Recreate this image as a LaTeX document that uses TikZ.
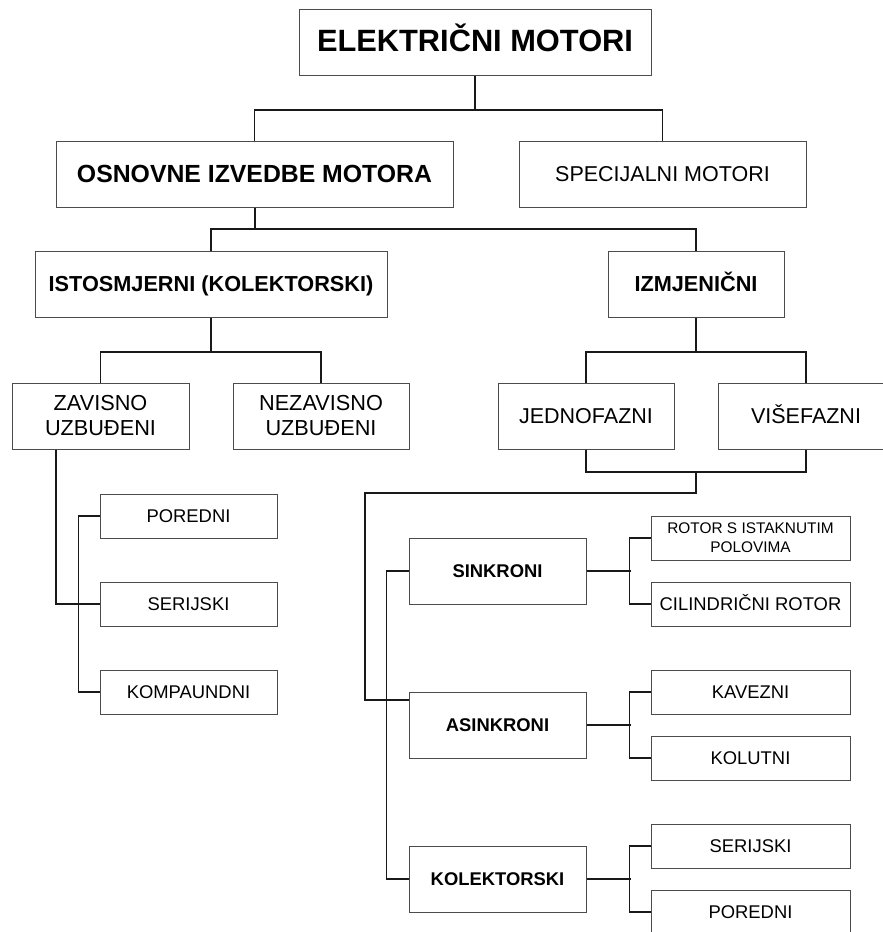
\documentclass[tikz,border=0pt]{standalone}
\usepackage{fontspec}
\setmainfont{Liberation Sans}
\usetikzlibrary{calc}
\begin{document}
\begin{tikzpicture}[x=1pt,y=-1pt,
  box/.style={draw=black!70, line width=1pt, inner sep=0pt, align=center, text=black},
  big/.style={box, minimum height=66pt},
  small/.style={box, minimum height=44pt},
  one/.style={text height=#1, text depth=0pt},
  conn/.style={line width=1.5pt, black!90}]
\useasboundingbox[fill=white] (0,0) rectangle (883,932);
% boxes
\node[big, minimum width=352pt, text height=22pt, text depth=4pt, font=\fontsize{30.8}{34}\selectfont\bfseries] (top) at (475,42) {ELEKTRIČNI MOTORI};
\node[big, minimum width=397pt, one=17.8pt, font=\fontsize{24.8}{28}\selectfont\bfseries] (osn) at (254.5,174) {OSNOVNE IZVEDBE MOTORA};
\node[big, minimum width=287pt, one=15.4pt, font=\fontsize{21.5}{25}\selectfont] (spec) at (662.5,174) {SPECIJALNI MOTORI};
\node[big, minimum width=352pt, one=15.5pt, font=\fontsize{21.7}{25}\selectfont\bfseries] (isto) at (211,284) {ISTOSMJERNI (KOLEKTORSKI)};
\node[big, minimum width=176pt, one=15.5pt, font=\fontsize{21.7}{25}\selectfont\bfseries] (izmj) at (696,284) {IZMJENIČNI};
\node[big, minimum width=177pt, font=\fontsize{21.7}{25}\selectfont] (zav) at (100.5,416) {ZAVISNO\\UZBUĐENI};
\node[big, minimum width=176pt, font=\fontsize{21.7}{25}\selectfont] (nez) at (321,416) {NEZAVISNO\\UZBUĐENI};
\node[big, minimum width=176pt, one=15.4pt, font=\fontsize{21.5}{25}\selectfont] (jed) at (586,416) {JEDNOFAZNI};
\node[big, minimum width=176pt, one=15.4pt, font=\fontsize{21.5}{25}\selectfont] (vis) at (806,416) {VIŠEFAZNI};
% left column
\node[small, minimum width=177pt, one=13.2pt, font=\fontsize{18.4}{22}\selectfont] (por) at (188.5,516) {POREDNI};
\node[small, minimum width=177pt, one=13.2pt, font=\fontsize{18.4}{22}\selectfont] (ser) at (188.5,604) {SERIJSKI};
\node[small, minimum width=177pt, one=13.2pt, font=\fontsize{18.4}{22}\selectfont] (komp) at (188.5,692) {KOMPAUNDNI};
% middle column
\node[big, minimum width=177pt, one=13.2pt, font=\fontsize{18.4}{22}\selectfont\bfseries] (sink) at (497.5,571) {SINKRONI};
\node[big, minimum width=177pt, one=13.2pt, font=\fontsize{18.4}{22}\selectfont\bfseries] (asink) at (497.5,725) {ASINKRONI};
\node[big, minimum width=177pt, one=13.2pt, font=\fontsize{18.4}{22}\selectfont\bfseries] (kol) at (497.5,879) {KOLEKTORSKI};
% right column
\node[small, minimum width=199pt, font=\fontsize{15.4}{19}\selectfont] (rotor) at (750.5,538) {ROTOR S ISTAKNUTIM\\POLOVIMA};
\node[small, minimum width=199pt, one=13.2pt, font=\fontsize{18.4}{22}\selectfont] (cil) at (750.5,604) {CILINDRIČNI ROTOR};
\node[small, minimum width=199pt, one=13.2pt, font=\fontsize{18.4}{22}\selectfont] (kav) at (750.5,692) {KAVEZNI};
\node[small, minimum width=199pt, one=13.2pt, font=\fontsize{18.4}{22}\selectfont] (kolut) at (750.5,758) {KOLUTNI};
\node[small, minimum width=199pt, one=13.2pt, font=\fontsize{18.4}{22}\selectfont] (ser2) at (750.5,846) {SERIJSKI};
\node[small, minimum width=199pt, one=13.2pt, font=\fontsize{18.4}{22}\selectfont] (por2) at (750.5,912) {POREDNI};
% junctions
\coordinate (j1) at (475,110);
\coordinate (j2) at (255,229);
\coordinate (j3) at (211,352);
\coordinate (j4) at (696,352);
\coordinate (j5) at (696,472);
\coordinate (j6) at (696,493);
\coordinate (j7) at (365,493);
% connectors
\draw[conn] (top.south) -- (j1);
\draw[conn] (osn.north) |- (j1) -| (spec.north);
\draw[conn] (osn.south -| j2) -- (j2);
\draw[conn] (isto.north) |- (j2) -| (izmj.north);
\draw[conn] (isto.south) -- (j3);
\draw[conn] (zav.north) |- (j3) -| (nez.north);
\draw[conn] (izmj.south) -- (j4);
\draw[conn] (jed.north) |- (j4) -| (vis.north);
\draw[conn] (jed.south) |- (j5) -| (vis.south);
\draw[conn] (j5) -- (j6) -- (j7) |- ([yshift=25pt]asink.west);
\draw[conn] (sink.west) -- ++(-22,0) |- (kol.west);
\draw[conn] ($(zav.south west)!0.25!(zav.south east)$) |- (ser.west);
\draw[conn] (por.west) -- ++(-21,0) |- (komp.west);
\draw[conn] (sink.east) -- ++(44,0);
\draw[conn] (rotor.west) -- ++(-21,0) |- (cil.west);
\draw[conn] (asink.east) -- ++(44,0);
\draw[conn] (kav.west) -- ++(-21,0) |- (kolut.west);
\draw[conn] (kol.east) -- ++(44,0);
\draw[conn] (ser2.west) -- ++(-21,0) |- (por2.west);
\end{tikzpicture}
\end{document}
